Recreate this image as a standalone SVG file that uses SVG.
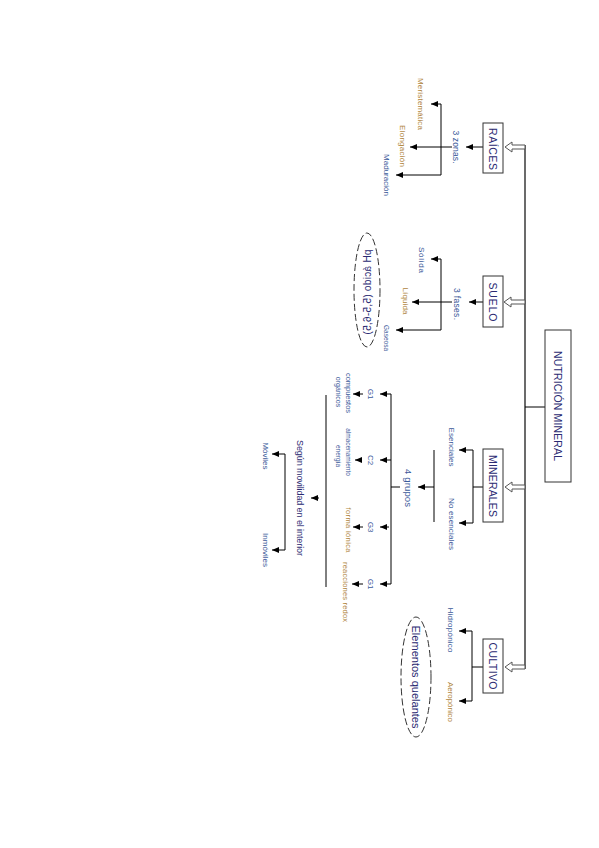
<svg xmlns="http://www.w3.org/2000/svg" width="599" height="848" viewBox="0 0 599 848">
<defs>
<marker id="ah" markerUnits="userSpaceOnUse" markerWidth="8" markerHeight="7" refX="7" refY="3" orient="auto">
<path d="M0,0 L7,3 L0,6 Z" fill="#000"/>
</marker>
<style>
.box{fill:#fff;stroke:#333;stroke-width:1}
.ln{stroke:#000;stroke-width:1;fill:none}
.ar{stroke:#000;stroke-width:1;fill:none;marker-end:url(#ah)}
.main{stroke:#6b6b6b;stroke-width:2;fill:none}
.hol{fill:#fff;stroke:#555;stroke-width:1}
.ell{fill:none;stroke:#333;stroke-width:1;stroke-dasharray:7 3}
text{font-family:"Liberation Sans",Arial,sans-serif;text-anchor:middle;dominant-baseline:central}
.bt{font-size:10.5px;fill:#2a2a72}
.sm{font-size:8px;fill:#3b5a9a}
.or{font-size:8px;fill:#b0863e}
.tn{font-size:7px;fill:#3b5a9a}
.tno{font-size:7.5px;fill:#b0863e}
.big{font-size:11px;fill:#2a2a72}
</style>
</defs>
<rect width="599" height="848" fill="#fff"/>

<g id="connectors">
<line class="main" x1="525" y1="145" x2="525" y2="669"/>
<line class="ln" x1="525" y1="407" x2="545" y2="407"/>
<path class="hol" d="M525,145 L512,145 L512,142 L505,147 L512,152 L512,149 L525,149 Z"/>
<path class="hol" d="M525,300 L511,300 L511,297 L504,302 L511,307 L511,304 L525,304 Z"/>
<path class="hol" d="M525,485 L512,485 L512,482 L505,487 L512,492 L512,489 L525,489 Z"/>
<path class="hol" d="M525,665 L512,665 L512,662 L505,667 L512,672 L512,669 L525,669 Z"/>

<line class="ar" x1="483" y1="147" x2="466" y2="147"/>
<line class="ln" x1="441" y1="104" x2="441" y2="175"/>
<line class="ar" x1="441" y1="104" x2="431" y2="104"/>
<line class="ar" x1="452" y1="147" x2="410" y2="147"/>
<line class="ar" x1="441" y1="175" x2="396" y2="175"/>

<line class="ar" x1="483" y1="302" x2="469" y2="302"/>
<line class="ln" x1="441" y1="259" x2="441" y2="330"/>
<line class="ar" x1="441" y1="259" x2="431" y2="259"/>
<line class="ar" x1="452" y1="302" x2="412" y2="302"/>
<line class="ar" x1="441" y1="330" x2="396" y2="330"/>

<line class="ln" x1="483" y1="487" x2="473" y2="487"/>
<line class="ln" x1="473" y1="450" x2="473" y2="523"/>
<line class="ar" x1="473" y1="450" x2="459" y2="450"/>
<line class="ar" x1="473" y1="523" x2="459" y2="523"/>
<line class="ln" x1="434" y1="450" x2="434" y2="522"/>
<line class="ar" x1="434" y1="487" x2="418" y2="487"/>
<line class="ln" x1="400" y1="487" x2="391" y2="487"/>
<line class="ln" x1="391" y1="394" x2="391" y2="584"/>
<line class="ar" x1="391" y1="394" x2="380" y2="394"/>
<line class="ar" x1="391" y1="460" x2="380" y2="460"/>
<line class="ar" x1="389" y1="527" x2="380" y2="527"/>
<line class="ar" x1="391" y1="584" x2="380" y2="584"/>
<line class="ar" x1="363" y1="394" x2="353" y2="394"/>
<line class="ar" x1="362" y1="460" x2="355" y2="460"/>
<line class="ar" x1="363" y1="527" x2="353" y2="527"/>
<line class="ar" x1="363" y1="584" x2="352" y2="584"/>
<line class="ln" x1="326" y1="395" x2="326" y2="587"/>
<line class="ar" x1="319" y1="498" x2="311" y2="498"/>
<line class="ln" x1="285" y1="454" x2="285" y2="550"/>
<line class="ar" x1="285" y1="454" x2="272" y2="454"/>
<line class="ar" x1="285" y1="550" x2="272" y2="550"/>

<line class="ln" x1="483" y1="667" x2="472" y2="667"/>
<line class="ln" x1="472" y1="631" x2="472" y2="701"/>
<line class="ar" x1="472" y1="631" x2="459" y2="631"/>
<line class="ar" x1="472" y1="701" x2="459" y2="701"/>
</g>

<g id="nutricion">
<rect class="box" x="545" y="330" width="26" height="152"/>
<text class="bt" transform="translate(558,406) rotate(90)" textLength="110">NUTRICIÓN MINERAL</text>
</g>

<g id="raices">
<rect class="box" x="483" y="123" width="20" height="50"/>
<text class="bt" transform="translate(493,149) rotate(90)" textLength="42">RAÍCES</text>
</g>
<g id="raices-zonas">
<text class="sm" transform="translate(456,147) rotate(90)" style="font-size:8.5px" textLength="33">3 zonas.</text>
</g>
<g id="meristematica"><text class="or" transform="translate(420,104) rotate(90)" textLength="52">Meristemática</text></g>
<g id="elongacion"><text class="or" transform="translate(402,146) rotate(90)" textLength="42">Elongación</text></g>
<g id="maduracion"><text class="sm" transform="translate(386,175) rotate(90)" textLength="42">Maduración</text></g>

<g id="suelo">
<rect class="box" x="483" y="276" width="20" height="51"/>
<text class="bt" transform="translate(493,302) rotate(90)" textLength="39">SUELO</text>
</g>
<g id="suelo-fases"><text class="sm" transform="translate(457,304) rotate(90)" style="font-size:8.5px" textLength="32">3 fases.</text></g>
<g id="solida"><text class="sm" transform="translate(421,260) rotate(90)" textLength="26">Sólida</text></g>
<g id="liquida"><text class="or" transform="translate(405,301) rotate(90)" textLength="27">Líquida</text></g>
<g id="gaseosa"><text class="sm" transform="translate(386,338) rotate(90)" style="font-size:6.5px" textLength="26">Gaseosa</text></g>
<g id="ph">
<ellipse class="ell" cx="367" cy="290" rx="13" ry="57"/>
<text class="bt" transform="translate(367,292) rotate(90) scale(1,-1)" style="font-size:10px" textLength="85">pH ácido (5,5-6,5)</text>
</g>

<g id="minerales">
<rect class="box" x="483" y="449" width="20" height="73"/>
<text class="bt" transform="translate(493,486) rotate(90)" textLength="62">MINERALES</text>
</g>
<g id="esenciales"><text class="sm" transform="translate(451,447) rotate(90)" textLength="39">Esenciales</text></g>
<g id="no-esenciales"><text class="sm" transform="translate(451,524) rotate(90)" textLength="52">No esenciales</text></g>
<g id="grupos"><text class="sm" transform="translate(408,488) rotate(90)" style="font-size:9.5px" textLength="38">4 grupos</text></g>
<g id="g1a"><text class="sm" transform="translate(370,394) rotate(90)">G1</text></g>
<g id="c2"><text class="sm" transform="translate(370,460) rotate(90)">C2</text></g>
<g id="g3"><text class="sm" transform="translate(370,527) rotate(90)">G3</text></g>
<g id="g1b"><text class="sm" transform="translate(370,584) rotate(90)">G1</text></g>
<g id="compuestos">
<text class="tn" transform="translate(348,393) rotate(90)" style="font-size:7.5px" textLength="40">compuestos</text>
<text class="tn" transform="translate(338,392) rotate(90)">orgánicos</text>
</g>
<g id="almacenamiento">
<text class="tn" transform="translate(348,452) rotate(90)" style="font-size:6.5px">almacenamiento</text>
<text class="tn" transform="translate(338,456) rotate(90)" style="font-size:6.5px">energía</text>
</g>
<g id="forma-ionica"><text class="tno" transform="translate(348,530) rotate(90)" textLength="45">forma iónica</text></g>
<g id="redox"><text class="tno" transform="translate(345,592) rotate(90)" textLength="60">reacciones redox</text></g>
<g id="movilidad"><text class="bt" transform="translate(300,498) rotate(90)" style="font-size:9px" textLength="116">Según movilidad en el interior</text></g>
<g id="moviles"><text class="sm" transform="translate(265,456) rotate(90)">Móviles</text></g>
<g id="inmoviles"><text class="sm" transform="translate(265,550) rotate(90)" textLength="34">Inmóviles</text></g>

<g id="cultivo">
<rect class="box" x="483" y="639" width="20" height="54"/>
<text class="bt" transform="translate(493,666) rotate(90)" textLength="47">CULTIVO</text>
</g>
<g id="hidroponico"><text class="sm" transform="translate(450,630) rotate(90)" textLength="45">Hidropónico</text></g>
<g id="aeroponico"><text class="or" transform="translate(450,702) rotate(90)" textLength="40">Aeropónico</text></g>
<g id="quelantes">
<ellipse class="ell" cx="416" cy="677" rx="15" ry="60"/>
<text class="big" transform="translate(416,677) rotate(90)" textLength="103">Elementos quelantes</text>
</g>
</svg>
